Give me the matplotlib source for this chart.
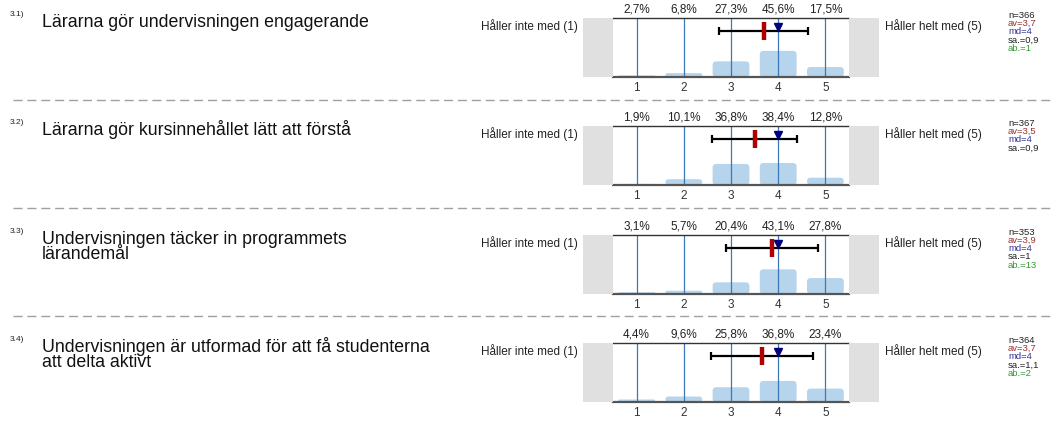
import matplotlib
matplotlib.use("Agg")
import matplotlib.pyplot as plt
from matplotlib.patches import Rectangle, FancyBboxPatch
from matplotlib.lines import Line2D

plt.rcParams['font.family'] = ['Liberation Sans', 'DejaVu Sans']

# survey data
numbers = ['3.1)', '3.2)', '3.3)', '3.4)']
questions = ['Lärarna gör undervisningen engagerande',
             'Lärarna gör kursinnehållet lätt att förstå',
             'Undervisningen täcker in programmets\nlärandemål',
             'Undervisningen är utformad för att få studenterna\natt delta aktivt']
scale = [1, 2, 3, 4, 5]
pcts = [[2.7, 6.8, 27.3, 45.6, 17.5],
        [1.9, 10.1, 36.8, 38.4, 12.8],
        [3.1, 5.7, 20.4, 43.1, 27.8],
        [4.4, 9.6, 25.8, 36.8, 23.4]]
n_resp = [366, 367, 353, 364]
means = [3.69, 3.50, 3.87, 3.66]
medians = [4, 4, 4, 4]
sds = [0.94, 0.90, 0.98, 1.08]
abstain = [1, None, 13, 2]
low_label = 'Håller inte med (1)'
high_label = 'Håller helt med (5)'

W, H = 1051, 423
panel_tops = [18, 126, 235, 343]
panel_h = 59


def fx(px):
    return px / W


def fy(py):
    return 1 - py / H


def fmt(v):
    s = f"{v:.1f}"
    if s.endswith('.0'):
        s = s[:-2]
    return s.replace('.', ',')


fig = plt.figure(figsize=(W / 100, H / 100), dpi=100)

for i in range(4):
    top = panel_tops[i]
    ax = fig.add_axes([fx(613), fy(top + panel_h), 236 / W, panel_h / H])
    ax.set_xlim(0.5, 5.5)
    ax.set_ylim(0, 103)

    # grey boxes either side
    for gx in (583, 849):
        fig.add_artist(Rectangle((fx(gx), fy(top + panel_h)), 30 / W, panel_h / H,
                                 transform=fig.transFigure, color='#e0e0e0', lw=0))

    # rounded bars
    asp = 80
    for x, p in zip(scale, pcts[i]):
        r = min(0.08, p / asp / 2)
        ax.add_patch(FancyBboxPatch((x - 0.39, 0), 0.78, p,
                                    boxstyle=f"round,pad=0,rounding_size={r}",
                                    mutation_aspect=asp, fc='#b6d4ec', ec='none', zorder=1))
        ax.annotate(f"{p:.1f}%".replace('.', ','), (x, 1), xycoords=('data', 'axes fraction'),
                    xytext=(0, 1.5), textcoords='offset points', ha='center', va='bottom',
                    fontsize=8.5, color='#222222')
    for x in scale:
        ax.axvline(x, color='#3b78b8', lw=0.9, zorder=2)

    ax.errorbar(means[i], 80, xerr=sds[i], fmt='none', ecolor='black', elinewidth=1.6,
                capsize=2.8, capthick=1.6, zorder=3)
    ax.plot(means[i], 80, marker='|', ms=13, mew=3.2, color='#b00000', zorder=4)
    ax.plot(medians[i], 88, marker='v', ms=6, color='#00007a', lw=0, zorder=5)

    ax.set_yticks([])
    ax.set_xticks(scale)
    ax.tick_params(axis='x', length=0, pad=3.5, labelsize=8.5, colors='#333333')
    ax.spines['left'].set_visible(False)
    ax.spines['right'].set_visible(False)
    ax.spines['top'].set_color('#333333')
    ax.spines['top'].set_linewidth(1.0)
    ax.spines['bottom'].set_color('#555555')
    ax.spines['bottom'].set_linewidth(1.6)
    ax.patch.set_alpha(0)

    fig.text(fx(578), fy(top + 8.5), low_label, ha='right', va='center', fontsize=8.5, color='#222222')
    fig.text(fx(885), fy(top + 8.5), high_label, ha='left', va='center', fontsize=8.5, color='#222222')

    fig.text(fx(10), fy(top - 7), numbers[i], ha='left', va='top', fontsize=6, color='#222222')
    for k, line in enumerate(questions[i].split('\n')):
        fig.text(fx(42), fy(top + 9 + 15 * k), line, ha='left', va='baseline', fontsize=12.8,
                 color='#111111')

    stats = [(f"n={n_resp[i]}", '#222222'),
             (f"av={fmt(means[i])}", '#993333'),
             (f"md={medians[i]}", '#333399'),
             (f"sa.={fmt(sds[i])}", '#222222')]
    if abstain[i] is not None:
        stats.append((f"ab.={abstain[i]}", '#339933'))
    for k, (s, c) in enumerate(stats):
        fig.text(fx(1008), fy(top - 3 + 8.3 * k), s, ha='left', va='center', fontsize=6.8, color=c)

# dashed separators
for y in (100, 208, 316):
    fig.add_artist(Line2D([fx(13), fx(1051)], [fy(y), fy(y)], transform=fig.transFigure,
                          color='#a0a0a0', lw=1, dashes=(6.5, 3.5)))

fig.savefig('out.png', dpi=100)
